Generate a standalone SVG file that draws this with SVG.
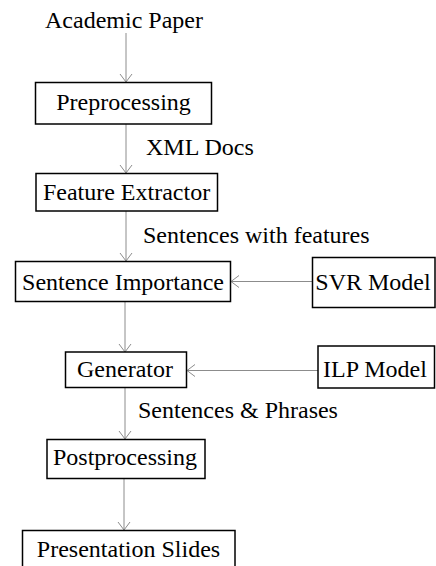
<svg xmlns="http://www.w3.org/2000/svg" width="436" height="566" viewBox="0 0 436 566">
<defs>
<style>
.box{fill:#fff;stroke:#000;stroke-width:1.5}
.t{font-family:"Liberation Serif","Times New Roman",serif;font-size:24px;fill:#000}
.c{stroke:#8c8c8c;stroke-width:1;fill:none}
</style>
<marker id="ah" viewBox="0 0 10 14" refX="9" refY="7" markerWidth="10" markerHeight="14" markerUnits="userSpaceOnUse" orient="auto">
<path d="M1,1 L9,7 L1,13" fill="none" stroke="#8c8c8c" stroke-width="1"/>
</marker>
</defs>
<rect width="436" height="566" fill="#fff"/>
<g id="connectors">
<line class="c" x1="126" y1="33" x2="126" y2="82" marker-end="url(#ah)"/>
<line class="c" x1="126" y1="124" x2="126" y2="173" marker-end="url(#ah)"/>
<line class="c" x1="126" y1="211" x2="126" y2="261" marker-end="url(#ah)"/>
<line class="c" x1="312" y1="281.5" x2="231" y2="281.5" marker-end="url(#ah)"/>
<line class="c" x1="125" y1="302" x2="125" y2="352" marker-end="url(#ah)"/>
<line class="c" x1="318" y1="370.5" x2="187" y2="370.5" marker-end="url(#ah)"/>
<line class="c" x1="125" y1="388" x2="125" y2="439" marker-end="url(#ah)"/>
<line class="c" x1="124" y1="479" x2="124" y2="530" marker-end="url(#ah)"/>
<text class="t" x="146" y="155">XML Docs</text>
<text class="t" x="143" y="243">Sentences with features</text>
<text class="t" x="138" y="418">Sentences &amp; Phrases</text>
</g>
<g id="academic-paper">
<text class="t" x="124" y="28" text-anchor="middle">Academic Paper</text>
</g>
<g id="preprocessing">
<rect class="box" x="35.5" y="82.5" width="176" height="41.5"/>
<text class="t" x="123.5" y="110" text-anchor="middle">Preprocessing</text>
</g>
<g id="feature-extractor">
<rect class="box" x="36" y="173.5" width="181.5" height="37.5"/>
<text class="t" x="126.5" y="200" text-anchor="middle">Feature Extractor</text>
</g>
<g id="sentence-importance">
<rect class="box" x="15.5" y="261.5" width="215" height="40"/>
<text class="t" x="123" y="290" text-anchor="middle">Sentence Importance</text>
</g>
<g id="svr-model">
<rect class="box" x="312.5" y="257.5" width="122.5" height="50"/>
<text class="t" x="373" y="290" text-anchor="middle">SVR Model</text>
</g>
<g id="generator">
<rect class="box" x="65.5" y="352" width="121" height="35.5"/>
<text class="t" x="125" y="377" text-anchor="middle">Generator</text>
</g>
<g id="ilp-model">
<rect class="box" x="318" y="346" width="116.5" height="42"/>
<text class="t" x="375" y="377" text-anchor="middle">ILP Model</text>
</g>
<g id="postprocessing">
<rect class="box" x="47" y="439.5" width="158" height="39"/>
<text class="t" x="125" y="465" text-anchor="middle">Postprocessing</text>
</g>
<g id="presentation-slides">
<rect class="box" x="22.5" y="530.5" width="212.5" height="40"/>
<text class="t" x="128.5" y="557" text-anchor="middle">Presentation Slides</text>
</g>
</svg>
